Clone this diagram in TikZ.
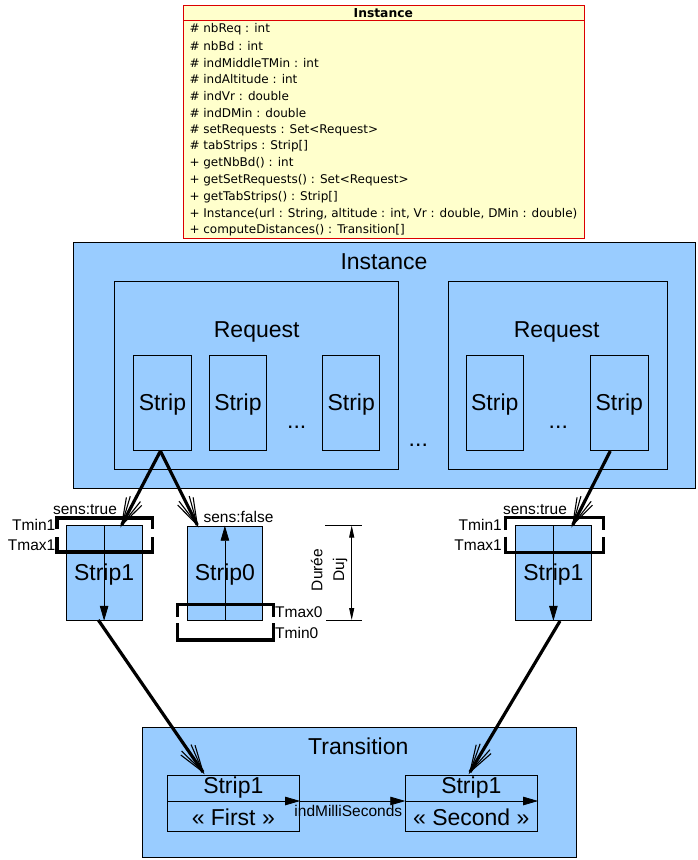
\documentclass[tikz,border=0pt]{standalone}
\usepackage{fontspec}
\setmainfont{Liberation Sans}
\newfontfamily\umlfont{DejaVu Sans}
\usetikzlibrary{arrows.meta,calc}
\definecolor{bluefill}{HTML}{99CCFF}
\definecolor{umlfill}{HTML}{FFFFCC}
\definecolor{umlred}{RGB}{220,0,0}
\newcommand\bigarr[2]{%
  \draw[line width=3.2pt] (#1) -- (#2);
  \draw[line width=1.1pt] ($(#2)!30pt!11:(#1)$) -- (#2) -- ($(#2)!30pt!-11:(#1)$);
  \draw[line width=1.1pt] ($(#2)!28pt!18:(#1)$) -- (#2) -- ($(#2)!28pt!-18:(#1)$);
}
\begin{document}
\begin{tikzpicture}[x=1pt,y=-1pt,
  bx/.style={draw=black, fill=bluefill, line width=0.8pt, inner sep=0pt, anchor=north west},
  big/.style={font=\fontsize{23}{27}\selectfont, inner sep=0pt},
  small/.style={font=\fontsize{15.5}{18}\selectfont, inner sep=0pt},
  uml/.style={font=\umlfont\fontsize{12}{14}\selectfont, inner sep=0pt, anchor=west},
  brk/.style={line width=3.5pt, line join=miter},
  thin/.style={line width=0.8pt},
  tri/.style={-{Triangle[length=15pt,width=8.5pt]}, line width=0.8pt}
]
\useasboundingbox (0,0) rectangle (698,860);

% ---- UML class box
\node[draw=umlred, fill=umlfill, line width=0.9pt, inner sep=0pt, anchor=north west,
      minimum width=400.7pt, minimum height=233.3pt] (uml) at (183,5) {};
\draw[umlred, line width=0.9pt] (183,20.7) -- (583.7,20.7);
\node[font=\umlfont\bfseries\fontsize{12.3}{14}\selectfont, inner sep=0pt] (umlt) at (383.3,12.8) {Instance};
\foreach \t [count=\i from 0] in {
  {\# nbReq : int},
  {\# nbBd : int},
  {\# indMiddleTMin : int},
  {\# indAltitude : int},
  {\# indVr : double},
  {\# indDMin : double},
  {\# setRequests : Set<Request>},
  {\# tabStrips : Strip[]},
  {+ getNbBd() : int},
  {+ getSetRequests() : Set<Request>},
  {+ getTabStrips() : Strip[]},
  {+ Instance(url : String, altitude : int, Vr : double, DMin : double)},
  {+ computeDistances() : Transition[]}}
  \node[uml] (u\i) at (189.3,{29+\i*16.8}) {\t};

% ---- Instance box
\node[bx, minimum width=622pt, minimum height=246pt] (inst) at (73,242) {};
\node[big] (instt) at (384,261.5) {Instance};

% Request 1
\node[bx, minimum width=284pt, minimum height=188.6pt] (req1) at (114.3,280.7) {};
\node[big] (req1t) at (256.7,332) {Request};
\node[bx, minimum width=57.4pt, minimum height=95pt] (r1s1) at (133.3,355.3) {};
\node[bx, minimum width=56.4pt, minimum height=95pt] (r1s2) at (209.3,355.3) {};
\node[bx, minimum width=57pt, minimum height=95pt] (r1s3) at (322.3,355.3) {};
\node[big] (r1s1t) at ($(r1s1.center)+(0,1.5)$) {Strip};
\node[big] (r1s2t) at ($(r1s2.center)+(0,1.5)$) {Strip};
\node[big] (r1s3t) at ($(r1s3.center)+(0,1.5)$) {Strip};
\node[big, anchor=base] (r1dots) at (296.7,428) {...};

% middle dots
\node[big, anchor=base] (mdots) at (418.3,446.5) {...};

% Request 2
\node[bx, minimum width=219pt, minimum height=188.6pt] (req2) at (447.7,280.7) {};
\node[big] (req2t) at (556.7,332) {Request};
\node[bx, minimum width=56.7pt, minimum height=95pt] (r2s1) at (466,355.3) {};
\node[bx, minimum width=57.7pt, minimum height=95pt] (r2s2) at (590,355.3) {};
\node[big] (r2s1t) at ($(r2s1.center)+(0,1.5)$) {Strip};
\node[big] (r2s2t) at ($(r2s2.center)+(0,1.5)$) {Strip};
\node[big, anchor=base] (r2dots) at (558.3,428) {...};

% ---- Strip1 left
\node[bx, minimum width=76pt, minimum height=95pt] (sA) at (65.7,525) {};
\node[big] (sAt) at ($(sA.center)+(0,1.5)$) {Strip1};
\draw[tri] (sA.north) -- (sA.south);
\draw[brk] (57,529) -- (57,518) -- (152.7,518) -- (152.7,529);
\draw[brk] (57,537) -- (57,552) -- (152.7,552) -- (152.7,537);
\node[small] (sAsens) at (85,510) {sens:true};
\node[small, anchor=east] (sAmin) at (55.5,524.5) {Tmin1};
\node[small, anchor=east] (sAmax) at (55.5,545) {Tmax1};

% ---- Strip0
\node[bx, minimum width=75.6pt, minimum height=94.3pt] (sB) at (186.7,525.7) {};
\node[big] (sBt) at ($(sB.center)+(0,1.5)$) {Strip0};
\draw[tri] (sB.south) -- (sB.north);
\draw[brk] (177.3,616.7) -- (177.3,604.3) -- (273.3,604.3) -- (273.3,616.7);
\draw[brk] (177.3,623) -- (177.3,640) -- (273.3,640) -- (273.3,623);
\node[small] (sBsens) at (238.5,517) {sens:false};
\node[small, anchor=west] (sBmax) at (275,612) {Tmax0};
\node[small, anchor=west] (sBmin) at (275,632.5) {Tmin0};

% ---- duration
\coordinate (dT) at (351.7,525.5);
\coordinate (dB) at (351.7,620);
\draw[thin] (325,525.5) -- (361.7,525.5);
\draw[thin] (326,620) -- (361.7,620);
\draw[thin, {Triangle[length=12pt,width=5pt]}-{Triangle[length=12pt,width=5pt]}] (dT) -- (dB);
\node[small, rotate=90] (dur1) at (316.7,570) {Durée};
\node[small, rotate=90] (dur2) at (340,570) {Duj};

% ---- Strip1 right
\node[bx, minimum width=75.4pt, minimum height=95pt] (sC) at (515.3,525) {};
\node[big] (sCt) at ($(sC.center)+(0,1.5)$) {Strip1};
\draw[tri] (sC.north) -- (sC.south);
\draw[brk] (505.7,530) -- (505.7,517.7) -- (603.3,517.7) -- (603.3,530);
\draw[brk] (505.7,536.7) -- (505.7,552.3) -- (603.3,552.3) -- (603.3,536.7);
\node[small] (sCsens) at (535,510) {sens:true};
\node[small, anchor=east] (sCmin) at (502,524.5) {Tmin1};
\node[small, anchor=east] (sCmax) at (502,545) {Tmax1};

% ---- Transition
\node[bx, minimum width=434pt, minimum height=130.6pt] (tr) at (141.7,726.7) {};
\node[big] (trt) at (358.3,746.7) {Transition};
\node[bx, minimum width=132pt, minimum height=56pt] (f) at (167.3,775) {};
\node[bx, minimum width=132pt, minimum height=56pt] (s) at (405.3,775) {};
\node[big] (ft) at (233.3,788) {Strip1};
\node[big] (fb) at (233.3,817.7) {« First »};
\node[big] (st) at (471.3,788) {Strip1};
\node[big] (sb) at (471.3,817.7) {« Second »};
\coordinate (fW) at ($(f.north west)+(0,26)$);
\coordinate (fE) at ($(f.north east)+(0,26)$);
\coordinate (sW) at ($(s.north west)+(0,26)$);
\coordinate (sE) at ($(s.north east)+(0,26)$);
\draw[tri] (fW) -- (fE);
\draw[tri] (fE) -- (sW);
\draw[tri] (sW) -- (sE);
\node[small] (ms) at (348.3,810.7) {indMilliSeconds};

% ---- big arrows
\coordinate (a1s) at ($(r1s1.south)+(-2,0)$);
\coordinate (a1t) at (121.7,525);
\coordinate (a2t) at (197.3,525);
\coordinate (a3s) at ($(r2s2.south)+(-9,0)$);
\coordinate (a3t) at (572.7,525);
\coordinate (a4s) at (98.3,620);
\coordinate (a4t) at (203,772);
\coordinate (a5s) at (560,621);
\coordinate (a5t) at (470,772);
\bigarr{a1s}{a1t}
\bigarr{a1s}{a2t}
\bigarr{a3s}{a3t}
\bigarr{a4s}{a4t}
\bigarr{a5s}{a5t}
\end{tikzpicture}
\end{document}
